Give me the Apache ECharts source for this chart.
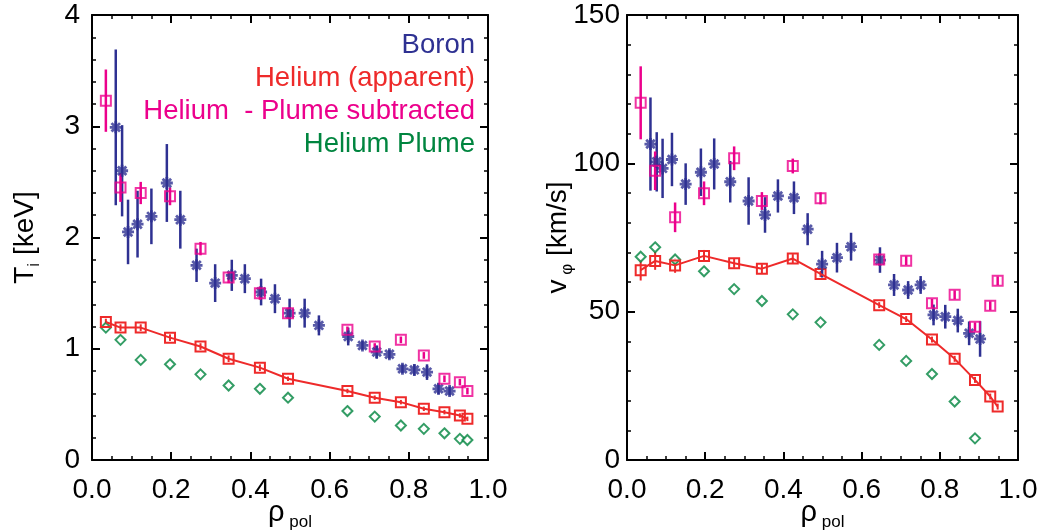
<!DOCTYPE html>
<html><head><meta charset="utf-8">
<script src="https://cdn.jsdelivr.net/npm/echarts@6/dist/echarts.min.js"></script>
<style>html,body{margin:0;padding:0;background:#fff}#c{width:1051px;height:530px}</style>
</head><body><div id="c"></div>
<script>
// ---- data ----
const rhoHe = [0.035, 0.072, 0.123, 0.197, 0.274, 0.345, 0.424, 0.495, 0.645, 0.714, 0.780, 0.838, 0.890, 0.929, 0.948];
const rhoB  = [0.060, 0.076, 0.091, 0.115, 0.150, 0.189, 0.223, 0.264, 0.311, 0.353, 0.386, 0.427, 0.462, 0.499, 0.537, 0.573, 0.647, 0.683, 0.719, 0.751, 0.784, 0.814, 0.846, 0.875, 0.903];

const tiBoron    = [2.99, 2.60, 2.05, 2.12, 2.19, 2.49, 2.16, 1.75, 1.59, 1.66, 1.63, 1.51, 1.45, 1.32, 1.32, 1.21, 1.11, 1.03, 0.97, 0.95, 0.82, 0.81, 0.79, 0.64, 0.62];
const tiBoronErr = [0.70, 0.41, 0.29, 0.30, 0.25, 0.35, 0.26, 0.15, 0.17, 0.14, 0.13, 0.12, 0.13, 0.13, 0.13, 0.09, 0.08, 0.04, 0.06, 0.04, 0.04, 0.05, 0.07, 0.05, 0.04];
const tiHeApp    = [1.24, 1.19, 1.19, 1.10, 1.02, 0.91, 0.83, 0.73, 0.62, 0.56, 0.52, 0.46, 0.43, 0.40, 0.37];
const tiHeAppErr = [0.03, 0.03, 0.03, 0.03, 0.03, 0.03, 0.03, 0.02, 0.02, 0.02, 0.02, 0.02, 0.02, 0.02, 0.02];
const tiHeSub    = [3.23, 2.45, 2.40, 2.37, 1.90, 1.64, 1.50, 1.32, 1.17, 1.02, 1.08, 0.94, 0.73, 0.70, 0.62];
const tiHeSubErr = [0.28, 0.13, 0.10, 0.08, 0.06, 0.05, 0.06, 0.05, 0.03, 0.03, 0.03, 0.03, 0.03, 0.03, 0.03];
const tiHePlume  = [1.19, 1.08, 0.90, 0.86, 0.77, 0.67, 0.64, 0.56, 0.44, 0.39, 0.31, 0.28, 0.24, 0.19, 0.18];

const vBoron     = [106.5, 100.5, 98.3, 101.3, 93.0, 97.0, 99.8, 93.8, 87.3, 82.6, 89.0, 88.4, 77.8, 66.0, 68.2, 71.9, 67.4, 59.0, 57.3, 59.0, 48.9, 48.3, 47.0, 42.7, 40.8];
const vBoronErr  = [15.7, 10, 10, 9, 7, 8, 8.6, 7, 8, 6, 5.6, 5.5, 5.4, 4.5, 5, 4.7, 4.3, 3.7, 3, 3, 3.5, 4, 4, 4, 6];
const vHeApp     = [64.0, 67.1, 65.6, 68.8, 66.3, 64.5, 67.9, 62.7, 52.2, 47.5, 40.6, 34.1, 27.0, 21.4, 18.0];
const vHeAppErr  = [3.5, 3, 2.5, 2, 1.5, 1.5, 1.5, 1, 1, 1, 1, 1, 1, 1, 1];
const vHeSub     = [120.4, 97.5, 81.8, 89.9, 101.7, 87.3, 99.1, 88.2, 67.6, 67.2, 52.8, 55.7, 44.9, 52.0, 60.4];
const vHeSubErr  = [12.3, 6.5, 5, 4, 4, 3, 2.5, 2, 2, 1.5, 1.5, 1.5, 1.5, 1.5, 1.5];
const vHePlume   = [68.5, 71.7, 67.6, 63.6, 57.6, 53.6, 49.1, 46.4, 38.8, 33.4, 29.0, 19.7, 7.3, null, null];

const legendLabels = ['Boron', 'Helium (apparent)', 'Helium  - Plume subtracted', 'Helium Plume'];

// ---- styles ----
const C_B = '#2E3192', C_R = '#EE2A2A', C_P = '#EC008C', C_G = '#00853F';
const FONT = 'Liberation Sans, Arial, Helvetica, sans-serif';

function pairs(x, y) { return x.map((v, i) => [v, y[i]]).filter(p => p[1] != null); }

function errSeries(x, y, e, color, ai, w) {
  return {
    type: 'custom', xAxisIndex: ai, yAxisIndex: ai, silent: true, z: 3,
    data: x.map((v, i) => [v, y[i], e[i]]),
    encode: { x: 0, y: 1 },
    renderItem(params, api) {
      const p1 = api.coord([api.value(0), api.value(1) + api.value(2)]);
      const p2 = api.coord([api.value(0), api.value(1) - api.value(2)]);
      return { type: 'line', shape: { x1: p1[0], y1: p1[1], x2: p2[0], y2: p2[1] },
               style: { stroke: color, lineWidth: w } };
    }
  };
}

const ASTER = 'path://M0,-10L0,10M-10,0L10,0M-7.07,-7.07L7.07,7.07M-7.07,7.07L7.07,-7.07';

function panelSeries(ai, bY, bE, aY, aE, sY, sE, pY) {
  return [
    { type: 'scatter', xAxisIndex: ai, yAxisIndex: ai, data: pairs(rhoHe, pY), symbol: 'diamond', symbolSize: [10, 10],
      itemStyle: { color: '#fff', borderColor: C_G, borderWidth: 2 }, z: 4, silent: true },
    errSeries(rhoHe, aY, aE, C_R, ai, 2),
    { type: 'line', xAxisIndex: ai, yAxisIndex: ai, data: pairs(rhoHe, aY), symbol: 'rect', symbolSize: 10,
      lineStyle: { color: C_R, width: 2 }, itemStyle: { color: 'rgba(255,255,255,0)', borderColor: C_R, borderWidth: 2 },
      z: 5, silent: true, animation: false },
    errSeries(rhoB, bY, bE, C_B, ai, 2.5),
    { type: 'scatter', xAxisIndex: ai, yAxisIndex: ai, data: pairs(rhoB, bY), symbol: ASTER, symbolSize: 12,
      itemStyle: { color: 'none', borderColor: C_B, borderWidth: 2.8 }, z: 6, silent: true },
    errSeries(rhoHe, sY, sE, C_P, ai, 2.5),
    { type: 'scatter', xAxisIndex: ai, yAxisIndex: ai, data: pairs(rhoHe, sY), symbol: 'rect', symbolSize: 10,
      itemStyle: { color: 'rgba(255,255,255,0)', borderColor: C_P, borderWidth: 2 }, z: 7, silent: true }
  ];
}

const lineS = { lineStyle: { color: '#000', width: 2 } };
function xAx(gi, pos, show) {
  return {
    type: 'value', gridIndex: gi, position: pos, min: 0, max: 1, interval: 0.2,
    axisLine: { show: true, onZero: false, ...lineS },
    axisTick: { show: true, inside: true, length: 8, lineStyle: { color: '#000', width: 2 } },
    minorTick: { show: true, splitNumber: 4, length: 4, lineStyle: { color: '#000', width: 1.5 } },
    splitLine: { show: false },
    axisLabel: { show: show, fontSize: 28, color: '#000', fontFamily: FONT, margin: 16,
                 formatter: v => v.toFixed(1) },
    name: show ? '{r|ρ}{s| pol}' : '', nameLocation: 'middle', nameGap: 38, nameMoveOverlap: false,
    nameTextStyle: { rich: { r: { fontSize: 29, color: '#000', fontFamily: FONT, verticalAlign: 'bottom' },
                             s: { fontSize: 17, color: '#000', fontFamily: FONT, verticalAlign: 'bottom', padding: [0, 0, -4, 0] } } }
  };
}
function yAx(gi, pos, show, max, interval, name, margin, gap) {
  return {
    type: 'value', gridIndex: gi, position: pos, min: 0, max: max, interval: interval,
    axisLine: { show: true, onZero: false, ...lineS },
    axisTick: { show: true, inside: true, length: 8, lineStyle: { color: '#000', width: 2 } },
    minorTick: { show: true, splitNumber: 5, length: 4, lineStyle: { color: '#000', width: 1.5 } },
    splitLine: { show: false },
    axisLabel: { show: show, fontSize: 28, color: '#000', fontFamily: FONT, margin: margin },
    name: show ? name : '', nameLocation: 'middle', nameRotate: 90, nameGap: gap, nameMoveOverlap: false,
    nameTextStyle: { rich: { t: { fontSize: 28, color: '#000', fontFamily: FONT, verticalAlign: 'bottom' },
                             s: { fontSize: 17, color: '#000', fontFamily: FONT, verticalAlign: 'bottom', padding: [0, 0, -4, 0] } } }
  };
}

const chart = echarts.init(document.getElementById('c'), null, { renderer: 'canvas' });
const legendColors = [C_B, C_R, C_P, C_G];
chart.setOption({
  animation: false,
  backgroundColor: '#fff',
  grid: [
    { left: 92, top: 15, width: 396, height: 445, outerBoundsMode: 'none', containLabel: false },
    { left: 627, top: 15, width: 391, height: 445, outerBoundsMode: 'none', containLabel: false }
  ],
  xAxis: [xAx(0, 'bottom', true), xAx(0, 'top', false), xAx(1, 'bottom', true), xAx(1, 'top', false)],
  yAxis: [
    yAx(0, 'left', true, 4, 1, '{t|T}{s|i}{t| [keV]}', 12, 53),
    yAx(0, 'right', false, 4, 1, '', 8, 40),
    yAx(1, 'left', true, 150, 50, '{t|v}{s| φ}{t| [km/s]}', 7, 55),
    yAx(1, 'right', false, 150, 50, '', 8, 40)
  ],
  graphic: legendLabels.map((t, i) => ({
    type: 'text', right: 1051 - 475, top: 31 + i * 33, silent: true,
    style: { text: t, fill: legendColors[i], fontSize: 27.5, fontFamily: FONT, textAlign: 'right' }
  })),
  series: [
    ...panelSeries(0, tiBoron, tiBoronErr, tiHeApp, tiHeAppErr, tiHeSub, tiHeSubErr, tiHePlume),
    ...panelSeries(2, vBoron, vBoronErr, vHeApp, vHeAppErr, vHeSub, vHeSubErr, vHePlume)
  ]
});
</script></body></html>
